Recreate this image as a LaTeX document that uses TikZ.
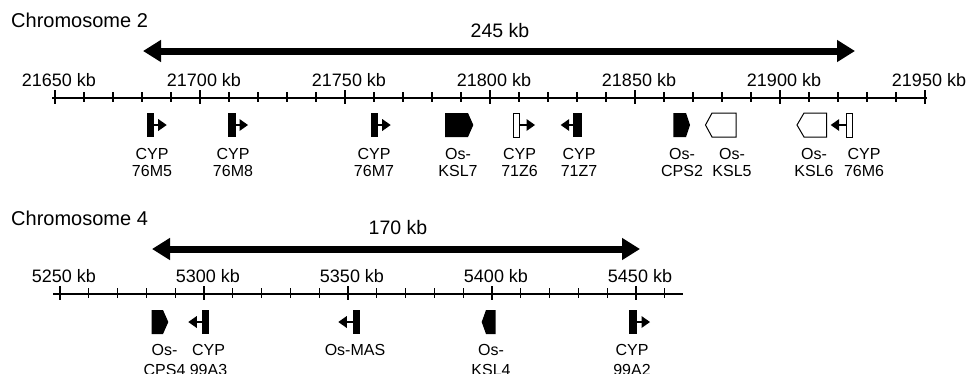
\documentclass[tikz,border=0pt]{standalone}
\usepackage{fontspec}
\setmainfont{Liberation Sans}
\usetikzlibrary{arrows.meta}
\tikzset{
  axisline/.style={line width=1.6pt},
  tickmark/.style={line width=1.3pt},
  filledgene/.style={fill=black},
  opengene/.style={draw=black, line width=1pt, fill=white},
  arrline/.style={line width=2pt},
  bigarrow/.style={line width=7pt, {Triangle[length=18pt,width=21pt]}-{Triangle[length=18pt,width=21pt]}},
  ticklabel/.style={font=\fontsize{18}{18}\selectfont, anchor=base, inner sep=0pt},
  spanlabel/.style={font=\fontsize{19.5}{19.5}\selectfont, anchor=base, inner sep=0pt},
  genelabel/.style={font=\fontsize{16}{17}\selectfont, align=center, anchor=north, inner sep=0pt},
  genelabelb/.style={font=\fontsize{16}{20}\selectfont, align=center, anchor=north, inner sep=0pt},
  chromtitle/.style={font=\fontsize{20}{20}\selectfont, anchor=base west, inner sep=0pt}
}
% right-pointing CYP: #1 style, #2 bar left, #3 bar right, #4 tip x, #5 y centre
\newcommand{\cypRight}[5]{%
  \path[#1] (#2,{#5-12}) rectangle (#3,{#5+12});
  \draw[arrline] (#3,#5) -- ({#4-8.5},#5);
  \fill ({#4-8.5},{#5-6}) -- (#4,#5) -- ({#4-8.5},{#5+6}) -- cycle;}
% left-pointing CYP: #1 style, #2 bar left, #3 bar right, #4 tip x, #5 y centre
\newcommand{\cypLeft}[5]{%
  \path[#1] (#2,{#5-12}) rectangle (#3,{#5+12});
  \draw[arrline] (#2,#5) -- ({#4+8.5},#5);
  \fill ({#4+8.5},{#5-6}) -- (#4,#5) -- ({#4+8.5},{#5+6}) -- cycle;}
% right-pointing pentagon: #1 style, #2 left, #3 body right, #4 tip, #5 y centre
\newcommand{\pentRight}[5]{%
  \path[#1] (#2,{#5-12}) -- (#3,{#5-12}) -- (#4,#5) -- (#3,{#5+12}) -- (#2,{#5+12}) -- cycle;}
% left-pointing pentagon: #1 style, #2 tip, #3 body left, #4 right, #5 y centre
\newcommand{\pentLeft}[5]{%
  \path[#1] (#4,{#5-12}) -- (#3,{#5-12}) -- (#2,#5) -- (#3,{#5+12}) -- (#4,{#5+12}) -- cycle;}
\begin{document}
\begin{tikzpicture}[x=1pt,y=-1pt]
\useasboundingbox[clip] (0,0) rectangle (968,373);
\fill[white] (0,0) rectangle (968,373);

% ---------------- Chromosome 2 ----------------
\node[chromtitle] (t2) at (11,27) {Chromosome 2};
\coordinate (s2l) at (143,51);
\coordinate (s2r) at (855,51);
\draw[bigarrow] (s2l) -- (s2r);
\node[spanlabel] (s2lab) at (500,37) {245 kb};

\coordinate (ax2l) at (52,98);
\coordinate (ax2r) at (927,98);
\draw[axisline] (ax2l) -- (ax2r);
\foreach \i in {0,...,30} \draw[tickmark] ({55+\i*29},92.3) -- ({55+\i*29},102.3);
\foreach \i/\lab in {0/21650,1/21700,2/21750,3/21800,4/21850,5/21900,6/21950} {
  \draw[tickmark] ({55+\i*145},90) -- ({55+\i*145},104);
  \node[ticklabel] (k2-\i) at ({59+\i*145},86.5) {\lab\ kb};
}

\cypRight{filledgene}{146.7}{154}{166.7}{125}
\cypRight{filledgene}{228}{235.7}{248}{125}
\cypRight{filledgene}{370.7}{378.3}{390.7}{125}
\pentRight{filledgene}{445}{468}{473.3}{125}
\cypRight{opengene}{513.8}{519.5}{535}{125}
\cypLeft{filledgene}{573.3}{581.7}{560.7}{125}
\pentRight{filledgene}{673.3}{686}{690}{125}
\pentLeft{opengene}{705.5}{712}{736}{125}
\pentLeft{opengene}{797}{804}{826.5}{125}
\cypLeft{opengene}{846.5}{852.3}{830.7}{125}

\node[genelabel] (g76M5) at (152,148) {CYP\\76M5};
\node[genelabel] (g76M8) at (233,148) {CYP\\76M8};
\node[genelabel] (g76M7) at (374,148) {CYP\\76M7};
\node[genelabel] (gKSL7) at (458,148) {Os-\\KSL7};
\node[genelabel] (g71Z6) at (519.5,148) {CYP\\71Z6};
\node[genelabel] (g71Z7) at (579,148) {CYP\\71Z7};
\node[genelabel] (gCPS2) at (682,148) {Os-\\CPS2};
\node[genelabel] (gKSL5) at (732,148) {Os-\\KSL5};
\node[genelabel] (gKSL6) at (814,148) {Os-\\KSL6};
\node[genelabel] (g76M6) at (864,148) {CYP\\76M6};

% ---------------- Chromosome 4 ----------------
\node[chromtitle] (t4) at (11,225) {Chromosome 4};
\coordinate (s4l) at (152,249);
\coordinate (s4r) at (640,249);
\draw[bigarrow] (s4l) -- (s4r);
\node[spanlabel] (s4lab) at (398,234) {170 kb};

\coordinate (ax4l) at (53,294);
\coordinate (ax4r) at (683,294);
\draw[axisline] (ax4l) -- (ax4r);
\foreach \i in {0,...,21} \draw[tickmark] ({60+\i*28.8},288.3) -- ({60+\i*28.8},298.3);
\foreach \i/\lab in {0/5250,1/5300,2/5350,3/5400,4/5450} {
  \draw[tickmark] ({60+\i*144},286) -- ({60+\i*144},300);
  \node[ticklabel] (k4-\i) at ({64+\i*144},282) {\lab\ kb};
}

\pentRight{filledgene}{151.7}{163}{168.3}{322}
\cypLeft{filledgene}{201.7}{209.3}{188.3}{322}
\cypLeft{filledgene}{353.3}{360}{338.3}{322}
\pentLeft{filledgene}{481.7}{486}{495.7}{322}
\cypRight{filledgene}{629.3}{636.7}{650}{322}

\node[genelabelb] (gCPS4) at (164.5,344) {Os-\\CPS4};
\node[genelabelb] (g99A3) at (208.5,344) {CYP\\99A3};
\node[genelabelb] (gMAS) at (355,344) {Os-MAS};
\node[genelabelb] (gKSL4) at (491,344) {Os-\\KSL4};
\node[genelabelb] (g99A2) at (632,344) {CYP\\99A2};
\end{tikzpicture}
\end{document}
